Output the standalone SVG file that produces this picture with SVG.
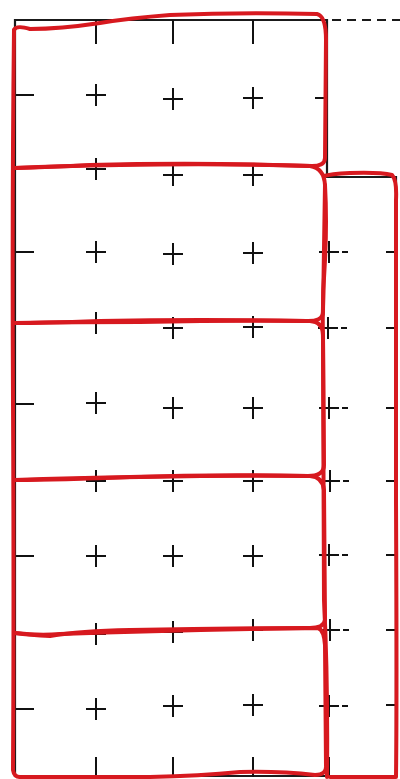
<svg xmlns="http://www.w3.org/2000/svg" xmlns:xlink="http://www.w3.org/1999/xlink" width="400" height="779" viewBox="0 0 400 779">
<style>
.bg{fill:#ffffff}
.frame{fill:none;stroke:#1a1a1a;stroke-width:2.2;stroke-linejoin:miter}
.dash{fill:none;stroke:#1a1a1a;stroke-width:1.8;stroke-dasharray:9,6}
.room{fill:none;stroke:#d7191f;stroke-width:4;stroke-linejoin:round;stroke-linecap:round}
.mark{fill:none;stroke:#111;stroke-width:2;stroke-linecap:butt}
</style>
<defs>
<path id="plus" class="mark" d="M-10,0 H10 M0,-11 V11"/>
<path id="plusd" class="mark" d="M-10,0 H10 M0,-11 V11 M13,0 H19"/>
<path id="hl" class="mark" d="M0,0 H18"/>
<path id="hr" class="mark" d="M0,0 H-12"/>
<path id="vd" class="mark" d="M0,0 V24"/>
<path id="vu" class="mark" d="M0,0 V-20"/>
</defs>
<rect class="bg" x="0" y="0" width="400" height="779"/>
<g id="frame">
<path class="frame" d="M15,776 L15,20 L327,20 L327,177 L396,177 L396,776 Z"/>
<path class="dash" d="M332,20 L400,20"/>
</g>
<g id="grid">
<use xlink:href="#vd" x="96" y="20"/>
<use xlink:href="#vd" x="173" y="20"/>
<use xlink:href="#vd" x="253" y="20"/>
<use xlink:href="#hl" x="16" y="95"/>
<use xlink:href="#hl" x="16" y="252"/>
<use xlink:href="#hl" x="16" y="404"/>
<use xlink:href="#hl" x="16" y="556"/>
<use xlink:href="#hl" x="16" y="709"/>
<use xlink:href="#plus" x="96" y="95"/>
<use xlink:href="#plus" x="173" y="99"/>
<use xlink:href="#plus" x="253" y="98"/>
<use xlink:href="#hr" x="327" y="98"/>
<use xlink:href="#plus" x="96" y="169"/>
<use xlink:href="#plus" x="173" y="175"/>
<use xlink:href="#plus" x="253" y="175"/>
<use xlink:href="#plus" x="96" y="252"/>
<use xlink:href="#plus" x="173" y="254"/>
<use xlink:href="#plus" x="253" y="253"/>
<use xlink:href="#plusd" x="329" y="252"/>
<use xlink:href="#hr" x="398" y="252"/>
<use xlink:href="#plus" x="96" y="323"/>
<use xlink:href="#plus" x="173" y="328"/>
<use xlink:href="#plus" x="253" y="327"/>
<use xlink:href="#plusd" x="328" y="328"/>
<use xlink:href="#hr" x="398" y="328"/>
<use xlink:href="#plus" x="96" y="403"/>
<use xlink:href="#plus" x="173" y="408"/>
<use xlink:href="#plus" x="253" y="408"/>
<use xlink:href="#plusd" x="329" y="408"/>
<use xlink:href="#hr" x="398" y="408"/>
<use xlink:href="#plus" x="96" y="481"/>
<use xlink:href="#plus" x="173" y="481"/>
<use xlink:href="#plus" x="253" y="481"/>
<use xlink:href="#plusd" x="330" y="481"/>
<use xlink:href="#hr" x="398" y="481"/>
<use xlink:href="#plus" x="96" y="556"/>
<use xlink:href="#plus" x="173" y="556"/>
<use xlink:href="#plus" x="253" y="556"/>
<use xlink:href="#plusd" x="329" y="555"/>
<use xlink:href="#hr" x="398" y="555"/>
<use xlink:href="#plus" x="96" y="634"/>
<use xlink:href="#plus" x="173" y="632"/>
<use xlink:href="#plus" x="253" y="630"/>
<use xlink:href="#plusd" x="330" y="630"/>
<use xlink:href="#hr" x="398" y="630"/>
<use xlink:href="#plus" x="96" y="709"/>
<use xlink:href="#plus" x="173" y="706"/>
<use xlink:href="#plus" x="253" y="705"/>
<use xlink:href="#plusd" x="329" y="706"/>
<use xlink:href="#hr" x="398" y="705"/>
<use xlink:href="#vu" x="96" y="777"/>
<use xlink:href="#vu" x="173" y="777"/>
<use xlink:href="#vu" x="253" y="777"/>
<use xlink:href="#vu" x="329" y="777"/>
</g>
<g id="room1"><path class="room" d="M14,30 Q16,25 30,29 Q60,29 100,23 Q130,18 170,15 Q240,12 317,14 Q326,16 326,40 L325,158 Q325,166 312,166 Q200,162 90,165 Q50,167 15,168"/></g>
<g id="room2"><path class="room" d="M15,168 Q60,166 120,165 Q220,163 310,166 Q324,168 325,185 L323,312 Q323,322 305,321 Q200,319 100,321 Q40,323 15,323"/></g>
<g id="room3"><path class="room" d="M15,323 Q80,322 140,322 Q240,320 310,321 Q323,322 323,335 L324,465 Q324,476 308,476 Q220,474 130,477 Q60,480 15,480"/></g>
<g id="room4"><path class="room" d="M15,480 Q70,478 140,477 Q240,475 310,476 Q323,477 324,490 L325,620 Q324,628 310,628 Q220,628 130,630 Q80,631 50,636 Q30,635 15,633"/></g>
<g id="room5"><path class="room" d="M15,633 Q40,636 60,634 Q150,631 250,629 Q310,628 318,628 Q324,630 325,645 L326,765 Q327,775 315,775 Q280,771 240,772 Q200,776 150,777 L20,777"/></g>
<g id="left-wall"><path class="room" d="M14,30 Q12,200 13,400 Q14,600 13,770 Q14,777 20,777"/></g>
<g id="room6"><path class="room" d="M324,176 Q330,174 350,173 Q380,172 392,175 Q397,180 396,200 L396,500 Q397,700 396,777 L330,777 M325,185 Q327,220 325,260 Q322,300 323,340 L324,600 Q328,680 327,777"/></g>
</svg>
